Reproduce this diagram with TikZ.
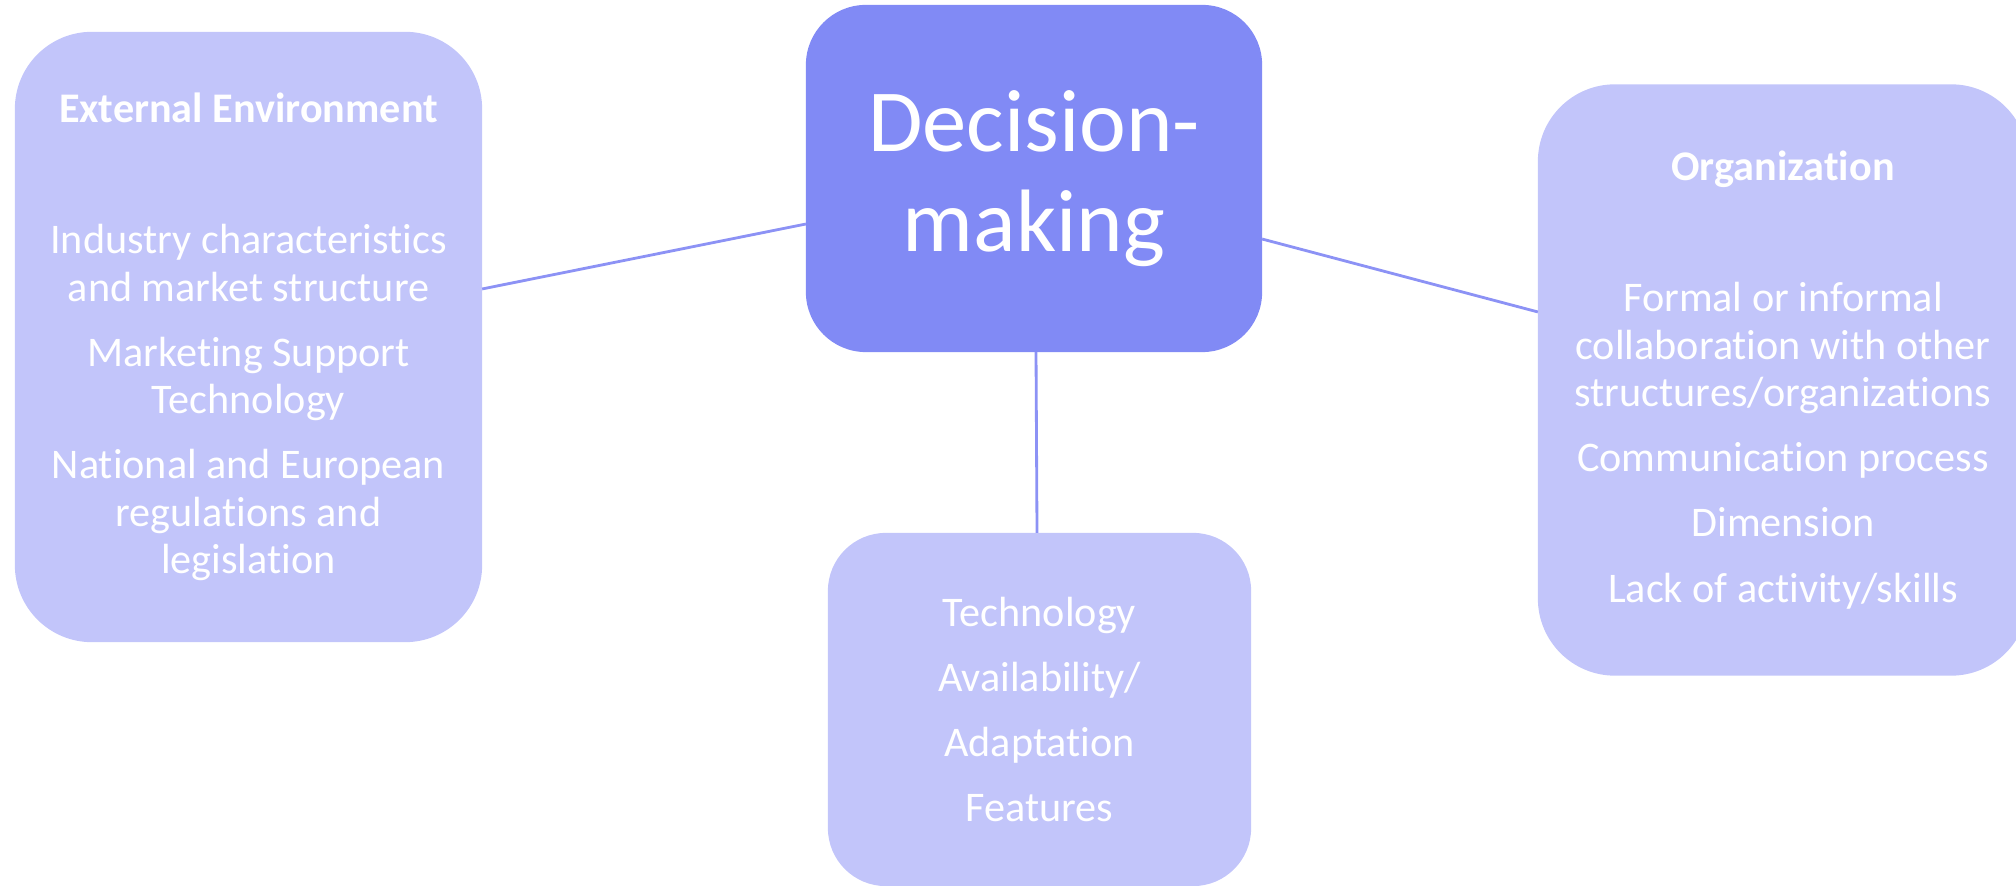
\documentclass[tikz,border=0pt]{standalone}
\usepackage{fontspec}
\setmainfont{Carlito}[Ligatures={NoCommon,NoRequired,NoContextual}]
\definecolor{colCentro}{RGB}{129,138,245}
\definecolor{colCaja}{RGB}{194,197,250}
\definecolor{colLinea}{RGB}{140,146,245}

\begin{document}
\begin{tikzpicture}[x=0.01cm, y=-0.01cm,
    caja/.style={fill=colCaja, rounded corners=0.77cm, inner sep=0pt, outer sep=0pt,
        text=white, align=center, font=\fontsize{12}{13.5}\selectfont},
    centro/.style={caja, fill=colCentro, rounded corners=0.6cm,
        font=\fontsize{25.2}{28.5}\selectfont},
    enlace/.style={draw=colLinea, line width=0.8pt}]
    \useasboundingbox (0,0) rectangle (2016,886);
    \clip (0,0) rectangle (2016,886);
    % Nodo central
    \node[centro, minimum width=4.56cm, minimum height=3.47cm] (dm) at (1034,178.5)
        {Decision-\\making};
    % Entorno externo
    \node[caja, minimum width=4.67cm, minimum height=6.10cm] (env) at (248.5,337)
        {\textbf{External Environment}\\[23.8pt]
         Industry characteristics\\and market structure\\[5pt]
         Marketing Support\\Technology\\[5pt]
         National and European\\regulations and\\legislation};
    % Organizacion
    \node[caja, minimum width=4.90cm, minimum height=5.91cm] (org) at (1783,380)
        {\textbf{Organization}\\[23.8pt]
         Formal or informal\\collaboration with other\\structures/organizations\\[5pt]
         Communication process\\[5pt]
         Dimension\\[5pt]
         Lack of activity/skills};
    % Tecnologia
    \node[caja, rounded corners=0.58cm, minimum width=4.23cm, minimum height=3.53cm] (tech) at (1039.5,709.5)
        {Technology\\[5pt]
         Availability/\\[5pt]
         Adaptation\\[5pt]
         Features};
    % Enlaces
    \draw[enlace] ([yshift=0.48cm]env.east) -- ([yshift=-0.455cm]dm.west);
    \draw[enlace] ([yshift=-0.605cm]dm.east) -- ([yshift=0.68cm]org.west);
    \draw[enlace] ([xshift=0.02cm]dm.south) -- ([xshift=-0.025cm]tech.north);
\end{tikzpicture}
\end{document}
